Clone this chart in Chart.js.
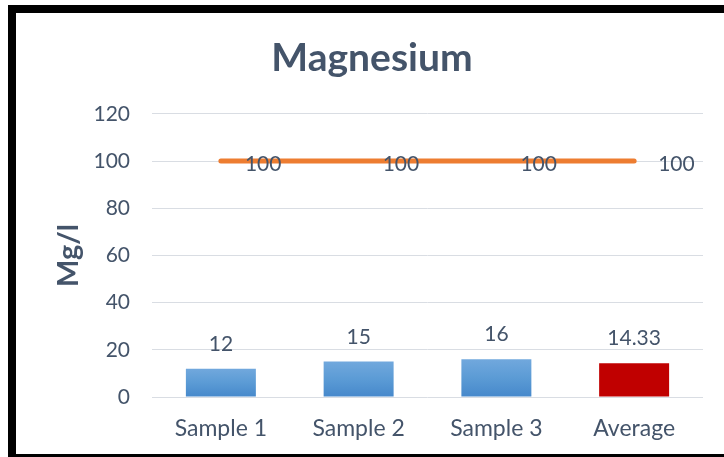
<!DOCTYPE html>
<html>
<head>
<meta charset="utf-8">
<script src="https://cdn.jsdelivr.net/npm/chart.js@4/dist/chart.umd.min.js"></script>
<style>
  html, body { margin: 0; padding: 0; background: #ffffff; }
  canvas { display: block; }
</style>
</head>
<body>
<canvas id="chart" width="724" height="457"></canvas>
<script>
// Magnesium concentration per sample, with the 100 Mg/l reference line
const categories = ['Sample 1', 'Sample 2', 'Sample 3', 'Average'];
const magnesium = [12, 15, 16, 14.33];
const limitValues = [100, 100, 100, 100];
const yTicks = [0, 20, 40, 60, 80, 100, 120];

const TEXT = '#44546a';
const FONT = 'Lato, "Open Sans", sans-serif';

// Black frame drawn behind the chart
const framePlugin = {
  id: 'frame',
  beforeDraw(chart) {
    const ctx = chart.ctx;
    ctx.save();
    ctx.fillStyle = '#ffffff';
    ctx.fillRect(0, 0, chart.width, chart.height);
    ctx.fillStyle = '#000000';
    ctx.fillRect(8, 5, chart.width - 8, 8);
    ctx.fillRect(8, 5, 8, chart.height - 5);
    ctx.fillRect(8, 454, chart.width - 8, 3);
    ctx.restore();
  }
};

// Value labels: above each bar, and to the right of each line point
const valueLabels = {
  id: 'valueLabels',
  afterDatasetsDraw(chart) {
    const ctx = chart.ctx;
    ctx.save();
    ctx.fillStyle = TEXT;
    ctx.font = '21px ' + FONT;
    ctx.textBaseline = 'alphabetic';
    chart.data.datasets.forEach((ds, di) => {
      const meta = chart.getDatasetMeta(di);
      meta.data.forEach((el, i) => {
        const v = ds.data[i];
        if (ds.type === 'line') {
          ctx.textAlign = 'left';
          ctx.fillText(String(v), el.x + 24, el.y + 10);
        } else {
          ctx.textAlign = 'center';
          ctx.fillText(String(v), el.x, el.y - 18);
        }
      });
    });
    ctx.restore();
  }
};

function barFill(context) {
  if (context.dataIndex === 3) return '#c00000';
  const chart = context.chart;
  const y = chart.scales && chart.scales.y;
  if (!y || !chart.chartArea) return '#5b9bd5';
  const top = y.getPixelForValue(magnesium[context.dataIndex]);
  const bottom = y.getPixelForValue(0);
  const g = chart.ctx.createLinearGradient(0, top, 0, bottom);
  g.addColorStop(0, '#71a8dd');
  g.addColorStop(0.5, '#5b9bd5');
  g.addColorStop(1, '#4688cb');
  return g;
}

new Chart(document.getElementById('chart'), {
  type: 'bar',
  data: {
    labels: categories,
    datasets: [
      {
        type: 'line',
        label: 'Limit',
        data: limitValues,
        borderColor: '#ed7d31',
        borderWidth: 5,
        borderCapStyle: 'round',
        pointRadius: 0,
        fill: false,
        order: 0
      },
      {
        type: 'bar',
        label: 'Magnesium',
        data: magnesium,
        backgroundColor: barFill,
        borderWidth: 0,
        barPercentage: 0.508,
        categoryPercentage: 1,
        order: 1
      }
    ]
  },
  options: {
    responsive: false,
    animation: false,
    devicePixelRatio: 1,
    layout: { padding: { left: 41, right: 21, top: 0, bottom: 0 } },
    plugins: {
      legend: { display: false },
      tooltip: { enabled: false },
      title: {
        display: true,
        text: 'Magnesium',
        color: TEXT,
        font: { family: FONT, size: 39, weight: 'bold', lineHeight: 1.2 },
        padding: { top: 35, bottom: 32 }
      }
    },
    scales: {
      x: {
        grid: { display: false, drawTicks: false },
        border: { display: false },
        ticks: {
          color: TEXT,
          padding: 18,
          font: { family: FONT, size: 23 }
        },
        afterFit(scale) { scale.height = 60; }
      },
      y: {
        min: yTicks[0],
        max: yTicks[yTicks.length - 1],
        afterBuildTicks(scale) { scale.ticks = yTicks.map(v => ({ value: v })); },
        grid: { color: '#d9dde3', lineWidth: 1, drawTicks: false },
        border: { display: false },
        ticks: {
          color: TEXT,
          padding: 22,
          font: { family: FONT, size: 21 }
        },
        title: {
          display: true,
          text: 'Mg/l',
          color: TEXT,
          font: { family: FONT, size: 29, weight: 'bold', lineHeight: 1.2 },
          padding: { top: 10, bottom: 0 }
        },
        afterFit(scale) { scale.width = 111; }
      }
    }
  },
  plugins: [framePlugin, valueLabels]
});
</script>
</body>
</html>
